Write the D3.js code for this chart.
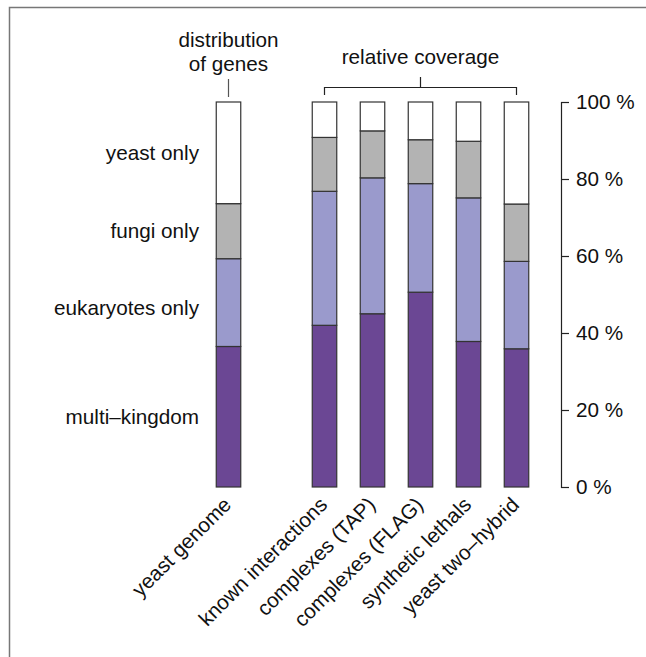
<html>
    <head>
        <meta charset="utf-8">
        <style>
            body { margin: 0; background: #fff; }
            text { font-family: "Liberation Sans", Arial, sans-serif; font-size: 20.7px; fill: #111; }
        </style>
    </head>
    <body>
        <script src="https://d3js.org/d3.v7.min.js"></script>
        <div id="my_dataviz"></div>

        <script type='text/JavaScript'>

            // categories (first bar is the genome, the rest are coverage bars)
            var categories = ['yeast genome', 'known interactions', 'complexes (TAP)',
                              'complexes (FLAG)', 'synthetic lethals', 'yeast two\u2013hybrid'];

            // gene classes, bottom to top
            var keys = ['multi\u2013kingdom', 'eukaryotes only', 'fungi only', 'yeast only'];

            // percentages per bar, read off the picture
            var multiKingdom = [36.5, 42.0, 45.0, 50.6, 37.8, 35.9];
            var eukaryotes   = [22.8, 34.8, 35.3, 28.2, 37.3, 22.7];
            var fungi        = [14.3, 14.0, 12.2, 11.4, 14.7, 14.9];
            var yeastOnly    = [26.4,  9.2,  7.5,  9.8, 10.2, 26.5];

            var yTicks = [0, 20, 40, 60, 80, 100];

            var data = categories.map(function(c, i) {
                var row = {name: c};
                row[keys[0]] = multiKingdom[i];
                row[keys[1]] = eukaryotes[i];
                row[keys[2]] = fungi[i];
                row[keys[3]] = yeastOnly[i];
                return row;
            });

            var width = 646, height = 657;

            var svg = d3.select("#my_dataviz")
                .append("svg")
                    .attr("width", width)
                    .attr("height", height);

            // frame (runs off the right and bottom edges)
            svg.append("rect")
                .attr("x", 9.5).attr("y", 7.5)
                .attr("width", 700).attr("height", 700)
                .attr("fill", "none")
                .attr("stroke", "#777")
                .attr("stroke-width", 1.5);

            // slots: genome, an empty gap, then the coverage bars
            var slots = [categories[0], 'gap'].concat(categories.slice(1));
            var x = d3.scalePoint()
                .domain(slots)
                .range([228.5, 516.5]);
            var barW = 24.5;

            var y = d3.scaleLinear()
                .domain([0, 100])
                .range([487, 102]);

            var color = d3.scaleOrdinal()
                .domain(keys)
                .range(['#6b4794', '#9a9acc', '#b3b3b3', '#ffffff']);

            var stackedData = d3.stack().keys(keys)(data);

            svg.append("g")
                .selectAll("g")
                .data(stackedData)
                .enter()
                .append("g")
                    .attr("fill", function(d) { return color(d.key); })
                .selectAll("rect")
                .data(function(d) { return d; })
                .enter()
                .append("rect")
                    .attr("x", function(d) { return x(d.data.name) - barW / 2; })
                    .attr("y", function(d) { return y(d[1]); })
                    .attr("width", barW)
                    .attr("height", function(d) { return y(d[0]) - y(d[1]); })
                    .attr("stroke", "#333")
                    .attr("stroke-width", 1.2);

            // right axis
            var axis = svg.append("g")
                .attr("transform", "translate(561,0)")
                .call(d3.axisRight(y)
                    .tickValues(yTicks)
                    .tickSize(8)
                    .tickPadding(7)
                    .tickFormat(function(d) { return d + " %"; }));
            axis.select(".domain").attr("stroke", "#222").attr("stroke-width", 1.2);
            axis.selectAll(".tick line").attr("stroke", "#222").attr("stroke-width", 1.2);
            axis.selectAll("text")
                .style("font-family", '"Liberation Sans", Arial, sans-serif')
                .style("font-size", "20.7px")
                .attr("fill", "#111");

            // class labels next to the genome bar
            var genome = stackedData.map(function(s) { return s[0]; });
            svg.append("g")
                .selectAll("text")
                .data(genome)
                .enter()
                .append("text")
                    .attr("x", 199)
                    .attr("y", function(d) { return y((d[0] + d[1]) / 2); })
                    .attr("dy", function(d, i) { return i == 1 ? "0.6em" : "0.35em"; })
                    .attr("text-anchor", "end")
                    .text(function(d, i) { return keys[i]; });

            // rotated category labels
            svg.append("g")
                .selectAll("text")
                .data(categories)
                .enter()
                .append("text")
                    .attr("text-anchor", "end")
                    .attr("transform", function(d) {
                        return "translate(" + (x(d) + 4) + ",506) rotate(-45)";
                    })
                    .text(function(d) { return d; });

            // "distribution of genes" header
            var gx = x(categories[0]);
            svg.append("text").attr("x", gx).attr("y", 47).attr("text-anchor", "middle").text("distribution");
            svg.append("text").attr("x", gx).attr("y", 70.5).attr("text-anchor", "middle").text("of genes");
            svg.append("line")
                .attr("x1", gx).attr("x2", gx).attr("y1", 79).attr("y2", 97)
                .attr("stroke", "#555").attr("stroke-width", 1.2);

            // "relative coverage" bracket
            var x0 = x(categories[1]), x1 = x(categories[categories.length - 1]), xm = (x0 + x1) / 2;
            svg.append("text").attr("x", xm).attr("y", 64).attr("text-anchor", "middle").text("relative coverage");
            svg.append("path")
                .attr("d", "M" + x0 + ",95V87.5H" + x1 + "V95M" + xm + ",87.5V77")
                .attr("fill", "none")
                .attr("stroke", "#222")
                .attr("stroke-width", 1.2);
        </script>
    </body>
</html>
